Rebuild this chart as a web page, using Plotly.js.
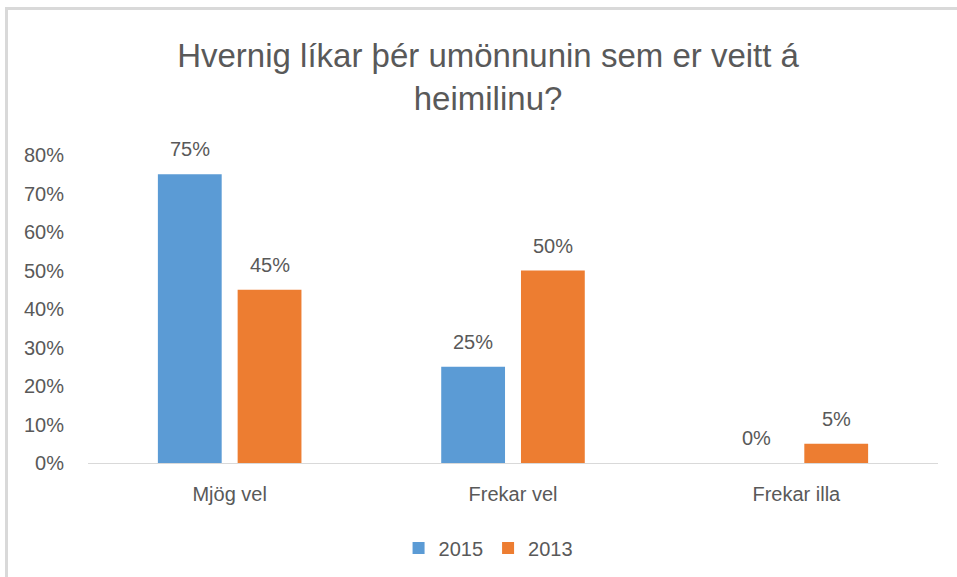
<!DOCTYPE html>
<html>
<head>
<meta charset="utf-8">
<script src="https://cdn.plot.ly/plotly-3.0.1.min.js"></script>
<style>
  html, body { margin: 0; padding: 0; background: #fff; }
  #wrap { position: relative; width: 957px; height: 577px; overflow: hidden; }
  #chart { width: 957px; height: 577px; }
  #frame { position: absolute; left: 5px; top: 7px; right: -4px; bottom: -4px;
           border-left: 3px solid #d9d9d9; border-top: 3px solid #d9d9d9; pointer-events: none; }
</style>
</head>
<body>
<div id="wrap"><div id="chart"></div><div id="frame"></div></div>
<script>
const categories = ["Mjög vel", "Frekar vel", "Frekar illa"];
const seriesNames = ["2015", "2013"];
const values2015 = [0.75, 0.25, 0.0];
const values2013 = [0.45, 0.50, 0.05];
const yTickVals = [0, 0.1, 0.2, 0.3, 0.4, 0.5, 0.6, 0.7, 0.8];
const yTickText = ["0%", "10%", "20%", "30%", "40%", "50%", "60%", "70%", "80%"];
const titleText = "Hvernig líkar þér umönnunin sem er veitt á<br>heimilinu?";

const textColor = "#595959";
const colors = ["#5B9BD5", "#ED7D31"];
const font = "Liberation Sans, Arial, sans-serif";

const allSeries = [values2015, values2013];
const traces = allSeries.map((vals, i) => ({
  type: "bar",
  name: seriesNames[i],
  x: categories,
  y: vals,
  marker: { color: colors[i] },
  hoverinfo: "none"
}));

const annotations = [];
allSeries.forEach((vals, i) => {
  vals.forEach((v, j) => {
    annotations.push({
      x: categories[j], y: v, xref: "x", yref: "y",
      xshift: i === 0 ? -40 : 40, yshift: 25,
      text: Math.round(v * 100) + "%",
      showarrow: false, yanchor: "middle", xanchor: "center",
      font: { family: font, size: 20, color: textColor }
    });
  });
});

const layout = {
  width: 957, height: 577,
  margin: { l: 88, r: 19, t: 155, b: 114 },
  paper_bgcolor: "#ffffff", plot_bgcolor: "#ffffff",
  font: { family: font, color: textColor, size: 20 },
  title: {
    text: titleText,
    x: 0.51, xanchor: "center", xref: "container",
    y: 1 - 67 / 577, yanchor: "middle", yref: "container",
    font: { family: font, size: 33, color: textColor }
  },
  barmode: "group",
  bargap: 0.437,
  bargroupgap: 0.2,
  xaxis: {
    type: "category",
    showgrid: false, zeroline: false,
    showline: true, linecolor: "#d9d9d9", linewidth: 1,
    ticks: "", ticklabelstandoff: 13,
    tickfont: { family: font, size: 20, color: textColor }
  },
  yaxis: {
    range: [0, 0.8],
    tickvals: yTickVals, ticktext: yTickText,
    showgrid: false, zeroline: false, showline: false,
    ticks: "", ticklabelstandoff: 23,
    tickfont: { family: font, size: 20, color: textColor }
  },
  showlegend: true,
  legend: {
    orientation: "h",
    x: 0.51, xanchor: "center", xref: "container",
    y: 1 - 548 / 577, yanchor: "middle", yref: "container",
    font: { family: font, size: 20, color: textColor },
    itemwidth: 30
  },
  annotations: annotations
};

Plotly.newPlot("chart", traces, layout, { displayModeBar: false, staticPlot: true });
</script>
</body>
</html>
